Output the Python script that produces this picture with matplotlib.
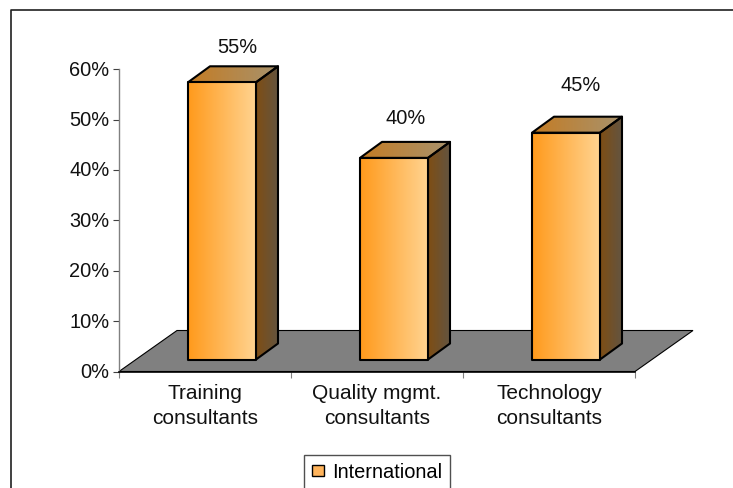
import numpy as np
import matplotlib
matplotlib.use("Agg")
import matplotlib.pyplot as plt
from matplotlib.colors import to_rgb
from matplotlib.lines import Line2D
from matplotlib.patches import Patch, Polygon, Rectangle

plt.rcParams["font.family"] = ["Liberation Sans", "DejaVu Sans"]

# -----------------------------
# Data
# -----------------------------
categories = ["Training\nconsultants", "Quality mgmt.\nconsultants", "Technology\nconsultants"]
values = [0.55, 0.40, 0.45]
value_labels = ["55%", "40%", "45%"]
y_ticks = [0, 0.1, 0.2, 0.3, 0.4, 0.5, 0.6]
y_tick_labels = ["0%", "10%", "20%", "30%", "40%", "50%", "60%"]
series_name = "International"

# -----------------------------
# Fake 3D geometry (px -> data)
# -----------------------------
W, H = 733, 489
PX_X = 1 / 172   # one category is 172 px wide
PX_Y = 0.1 / 50.4  # 10% is 50.4 px tall

floor_dx, floor_dy = 58 * PX_X, 41 * PX_Y
bar_w = 68 * PX_X
bar_dx, bar_dy = 22 * PX_X, 16 * PX_Y
base_dx, base_dy = 17 * PX_X, 12 * PX_Y
label_shift = [(15, 36), (11.5, 40), (15, 48)]  # px from front top centre

FONT = 14.4
CAT_FONT = 15

fig = plt.figure(figsize=(W / 100, H / 100), dpi=100)
ax = fig.add_axes([119 / W, (H - 372.5) / H, 3.4 * 172 / W, 0.7 * 504 / H])
ax.set_xlim(0, 3.4)
ax.set_ylim(0, 0.7)
ax.patch.set_visible(False)


def gradient_face(pts, c0, c1, z):
    pts = np.array(pts)
    x0, x1 = pts[:, 0].min(), pts[:, 0].max()
    y0, y1 = pts[:, 1].min(), pts[:, 1].max()
    ramp = np.linspace(to_rgb(c0), to_rgb(c1), 64)[None, :, :]
    im = ax.imshow(ramp, extent=(x0, x1, y0, y1), aspect="auto", origin="lower",
                   interpolation="bilinear", zorder=z)
    im.set_clip_path(Polygon(pts, transform=ax.transData))
    ax.add_patch(Polygon(pts, closed=True, fill=False, edgecolor="black", lw=1.5,
                         joinstyle="round", zorder=z + 0.1))


# floor
ax.add_patch(Polygon([(0, 0), (3, 0), (3 + floor_dx, floor_dy), (floor_dx, floor_dy)],
                     closed=True, facecolor="#808080", edgecolor="black", lw=0.8, zorder=1))

# bars
for i, v in enumerate(values):
    x0 = i + 0.5 + base_dx - bar_w / 2
    x1 = x0 + bar_w
    y0 = base_dy
    y1 = base_dy + v
    gradient_face([(x1, y0), (x1 + bar_dx, y0 + bar_dy), (x1 + bar_dx, y1 + bar_dy), (x1, y1)],
                  "#7f4e14", "#635440", 2)
    gradient_face([(x0, y1), (x1, y1), (x1 + bar_dx, y1 + bar_dy), (x0 + bar_dx, y1 + bar_dy)],
                  "#c47c24", "#a8926c", 2)
    gradient_face([(x0, y0), (x1, y0), (x1, y1), (x0, y1)], "#ff9a1c", "#ffd390", 3)
    sx, sy = label_shift[i]
    ax.annotate(value_labels[i], ((x0 + x1) / 2, y1), xytext=(sx * 0.72, sy * 0.72),
                textcoords="offset points", ha="center", va="center",
                fontsize=FONT, color="#111111", zorder=5)

# axes
ax.set_yticks(y_ticks)
ax.set_yticklabels(y_tick_labels, fontsize=FONT, color="#111111", va="center")
ax.set_xticks([0, 1, 2, 3])
ax.set_xticklabels([])
ax.set_xticks([0.5, 1.5, 2.5], minor=True)
ax.set_xticklabels(categories, minor=True, fontsize=CAT_FONT, color="#111111", linespacing=1.42)
ax.tick_params(axis="x", which="major", length=4, width=0.8, color="#808080")
ax.tick_params(axis="x", which="minor", length=0, pad=8)
ax.tick_params(axis="y", length=4, width=0.8, color="#404040", pad=3)

for side in ["top", "right"]:
    ax.spines[side].set_visible(False)
ax.spines["left"].set_bounds(0, 0.6)
ax.spines["left"].set_color("#808080")
ax.spines["left"].set_linewidth(1.0)
ax.spines["bottom"].set_bounds(0, 3)
ax.spines["bottom"].set_color("black")
ax.spines["bottom"].set_linewidth(1.2)
ax.spines["bottom"].set_zorder(4)

# chart frame, cut off by the image on the right and bottom
fig.add_artist(Line2D([10.5 / W, 10.5 / W, 1], [0, (H - 10.5) / H, (H - 10.5) / H],
                      color="#202020", lw=1.2))

# legend box runs off the bottom too
fig.add_artist(Rectangle((304 / W, -10 / H), 146 / W, (H - 456 + 10) / H, facecolor="white",
                         edgecolor="#505050", lw=1.0, zorder=3))
leg = fig.legend(handles=[Patch(facecolor="#ffb45c", edgecolor="black", lw=1.0, label=series_name)],
                 loc="center", bbox_to_anchor=(377 / W, (H - 473) / H), frameon=False,
                 fontsize=FONT, handlelength=0.6, handleheight=0.5, handletextpad=0.4)
leg.set_zorder(4)

fig.savefig("out.png", dpi=100)
